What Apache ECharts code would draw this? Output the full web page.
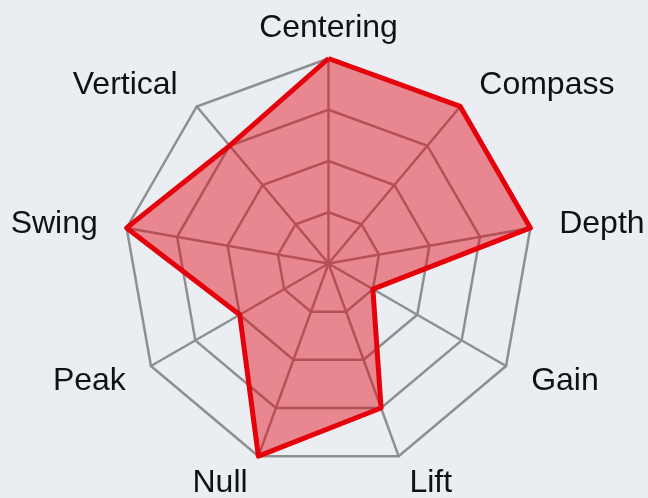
<!DOCTYPE html>
<html>
<head>
<meta charset="utf-8">
<script src="https://cdn.jsdelivr.net/npm/echarts@6/dist/echarts.min.js"></script>
<style>
html,body{margin:0;padding:0;background:#eaeef2;}
#chart{width:648px;height:498px;}
</style>
</head>
<body>
<div id="chart"></div>
<script>
// Indicators listed counter-clockwise starting from the top
const categories = ['Centering', 'Vertical', 'Swing', 'Peak', 'Null', 'Lift', 'Gain', 'Depth', 'Compass'];
const values = [1.0, 0.75, 1.0, 0.5, 1.0, 0.75, 0.25, 1.0, 1.0];
const maxValue = 1.0;

// label nudges [top, right, bottom, left] to match the reference placement
const namePadding = {
  Centering: [0, 0, 0, 0],
  Vertical: [0, 10, 22, 0],
  Swing: [0, 15, 2, 0],
  Peak: [16, 13, 0, 0],
  Null: [28, 6, 0, 0],
  Lift: [28, 0, 0, 6],
  Gain: [16, 0, 0, 13],
  Depth: [0, 0, 2, 15],
  Compass: [0, 0, 22, 10]
};

const rich = {};
categories.forEach(function (c, i) {
  rich['n' + i] = {
    padding: namePadding[c],
    fontSize: 32,
    fontFamily: 'Liberation Sans',
    color: '#111'
  };
});

const chart = echarts.init(document.getElementById('chart'), null, {renderer: 'canvas'});
chart.setOption({
  backgroundColor: '#eaeef2',
  animation: false,
  radar: {
    center: [328.5, 263.5],
    radius: 205,
    startAngle: 90,
    splitNumber: 4,
    shape: 'polygon',
    nameGap: 14,
    indicator: categories.map(function (c) { return {name: c, max: maxValue, min: 0}; }),
    axisName: {
      fontSize: 32,
      fontFamily: 'Liberation Sans',
      color: '#111',
      formatter: function (name) {
        return '{n' + categories.indexOf(name) + '|' + name + '}';
      },
      rich: rich
    },
    axisLine: {lineStyle: {color: '#8f8f8f', width: 2.5}},
    splitLine: {lineStyle: {color: '#8f8f8f', width: 2.5}},
    splitArea: {show: false},
    axisTick: {show: false},
    axisLabel: {show: false}
  },
  series: [{
    type: 'radar',
    symbol: 'none',
    data: [{
      value: values,
      lineStyle: {color: '#e6000b', width: 5},
      areaStyle: {color: '#e6000b', opacity: 0.43}
    }]
  }]
});
</script>
</body>
</html>
